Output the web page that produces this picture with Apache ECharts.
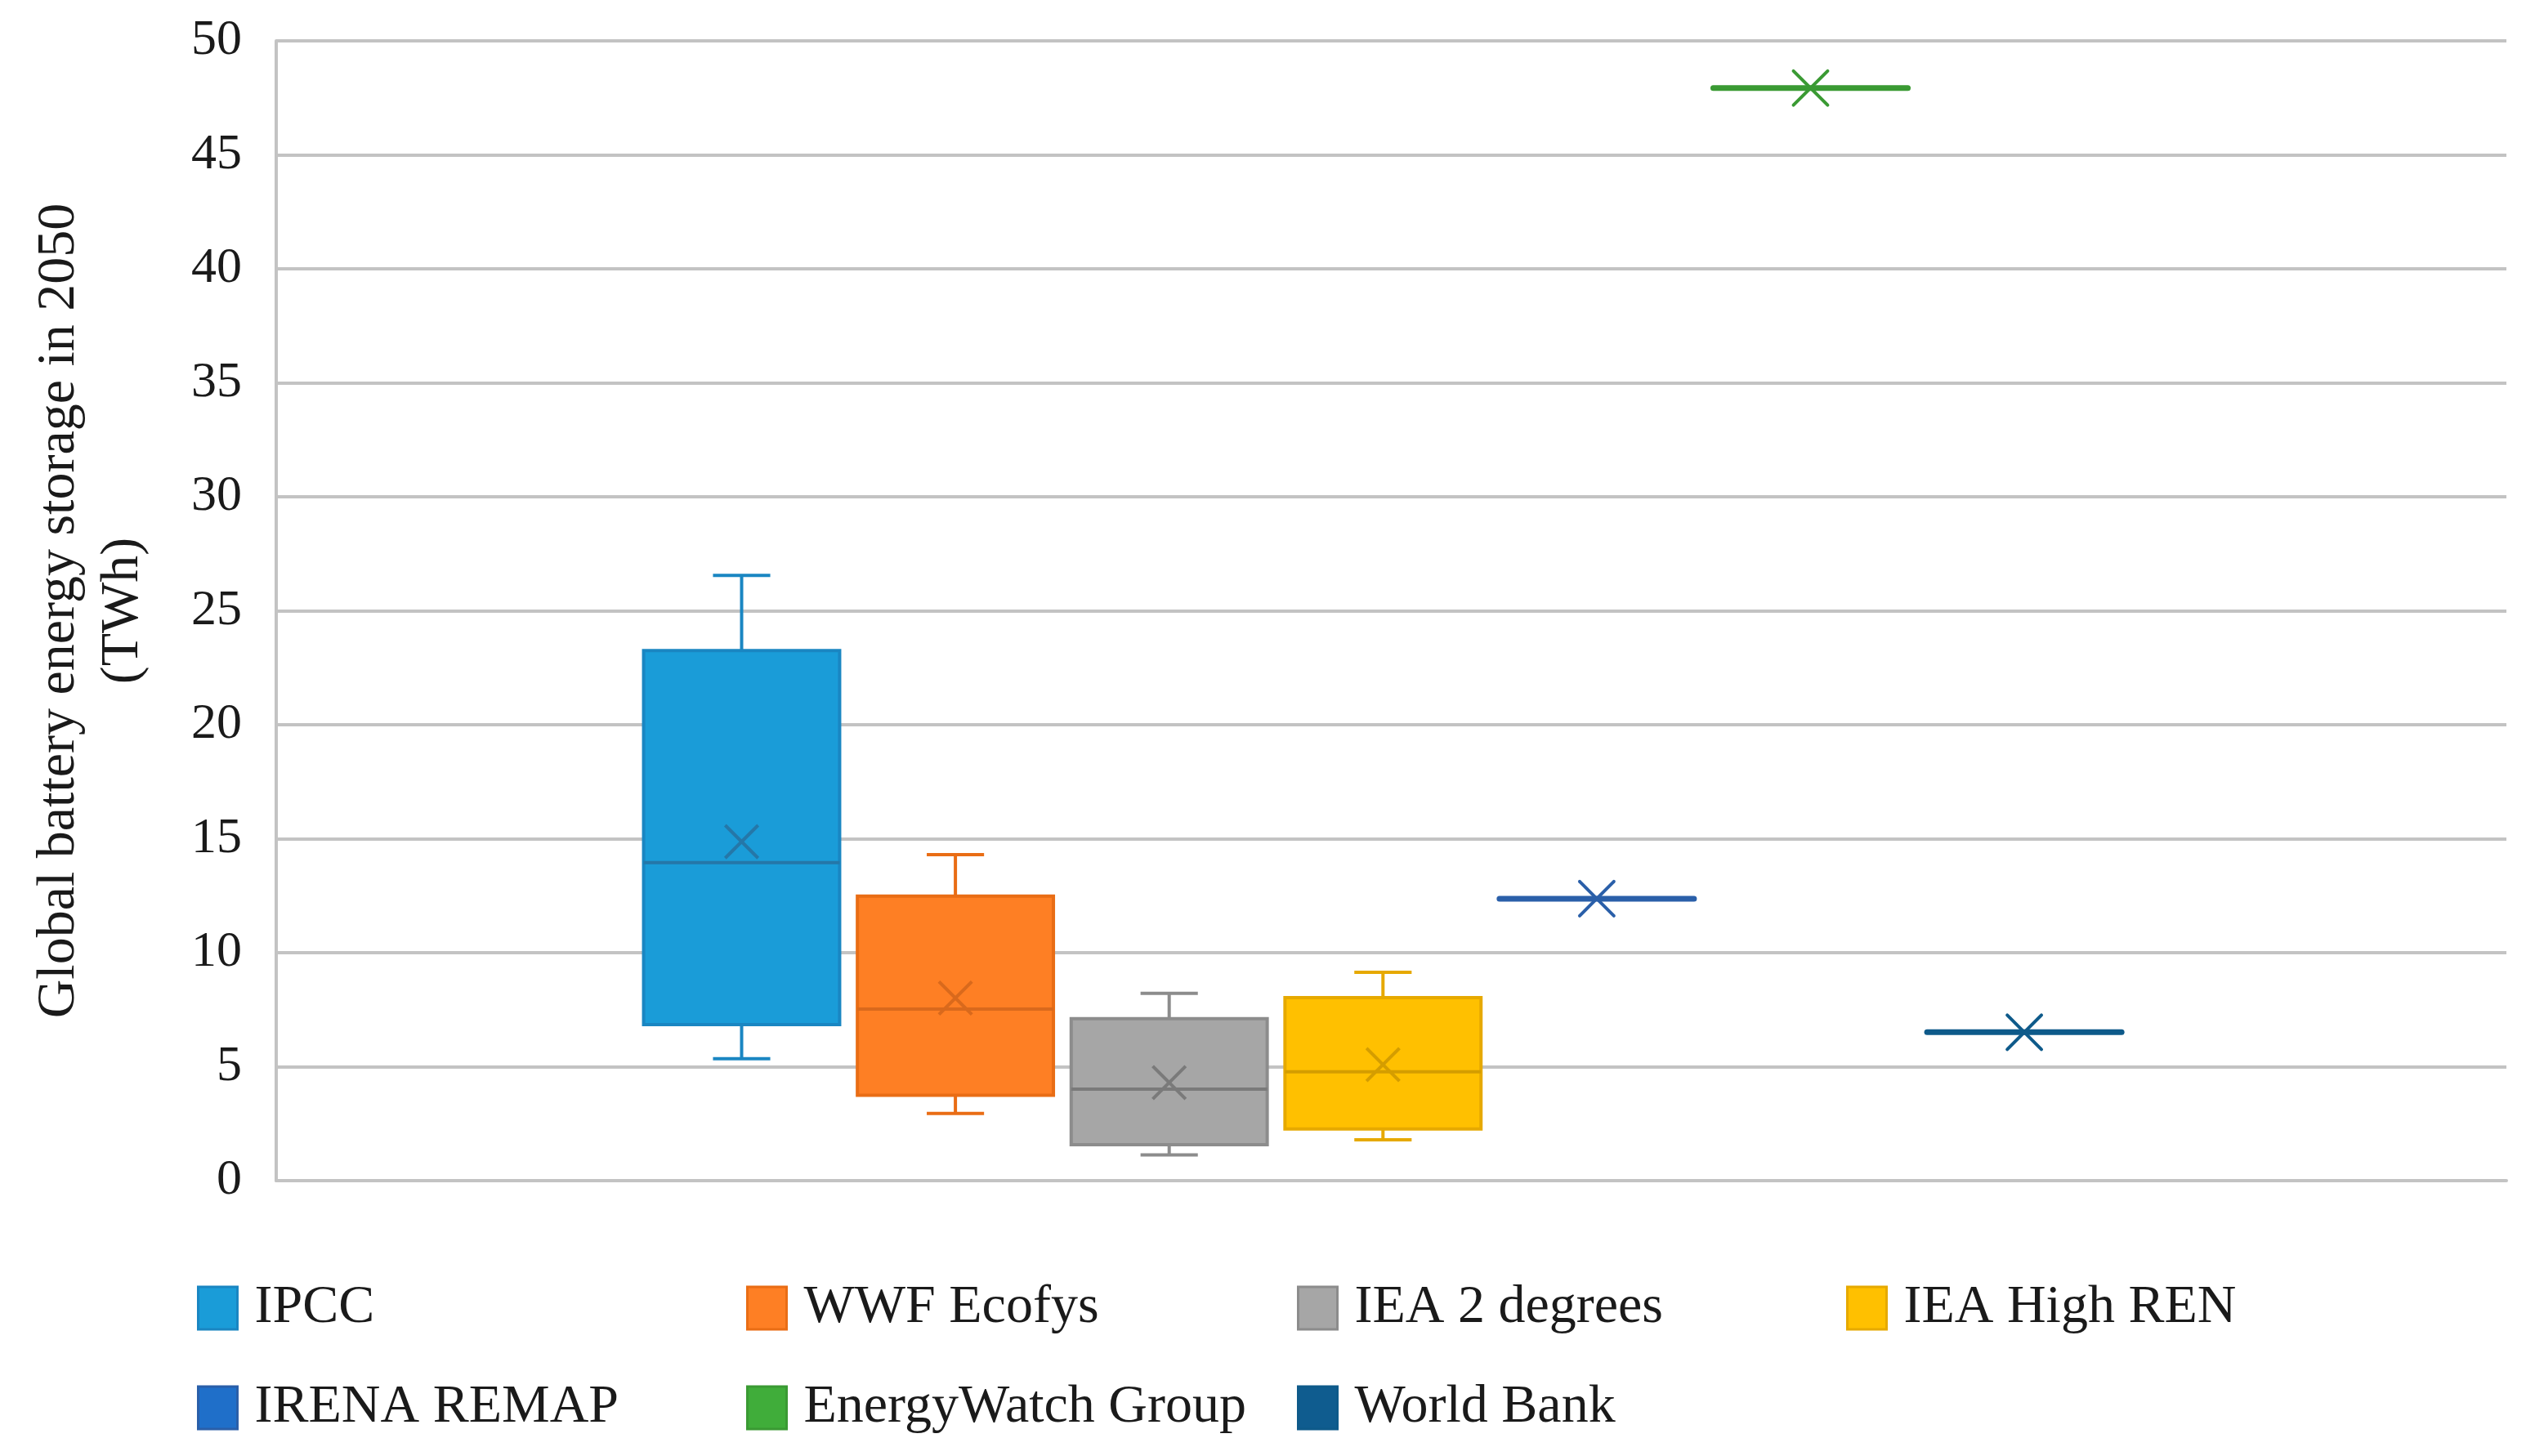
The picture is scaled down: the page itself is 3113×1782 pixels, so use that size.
<!DOCTYPE html>
<html>
<head>
<meta charset="utf-8">
<script src="https://cdn.jsdelivr.net/npm/echarts@6.0.0/dist/echarts.min.js"></script>
<style>html,body{margin:0;padding:0;background:#fff}#c{width:3113px;height:1782px}</style>
</head>
<body>
<div id="c"></div>
<script>
// ---- data (TWh) ----
const categories = ['IPCC', 'WWF Ecofys', 'IEA 2 degrees', 'IEA High REN', 'IRENA REMAP', 'EnergyWatch Group', 'World Bank'];
const boxNames = ['IPCC', 'WWF Ecofys', 'IEA 2 degrees', 'IEA High REN'];
const whiskerLow = [5.35, 2.95, 1.13, 1.79];
const quartile1 = [6.85, 3.75, 1.58, 2.27];
const medianVal = [13.95, 7.53, 4.01, 4.78];
const quartile3 = [23.25, 12.48, 7.11, 8.03];
const whiskerHigh = [26.55, 14.30, 8.22, 9.14];
const meanVal = [14.87, 8.01, 4.30, 5.09];
const singleNames = ['IRENA REMAP', 'EnergyWatch Group', 'World Bank'];
const singleVal = [12.37, 47.93, 6.51];
const yTicks = [0, 5, 10, 15, 20, 25, 30, 35, 40, 45, 50];

// ---- styles ----
const FONT = '"Liberation Serif", "DejaVu Serif", serif';
const fillColors = ['#1a9cd8', '#fe7f24', '#a6a6a6', '#ffc000', '#1f6fc9', '#40ad3a', '#0f5c8f'];
const lineColors = ['#1a86c2', '#e96d15', '#8c8c8c', '#e6a900', '#2a5fa9', '#3a9a33', '#0e5a8a'];
const markColors = ['#2577a8', '#d9691c', '#7a7a7a', '#d49d00', '#2a5fa9', '#3a9a33', '#0e5a8a'];
const GRID = '#c3c3c3';

function renderBox(idx) {
  return function (params, api) {
    const x = api.value(0);
    const pMin = api.coord([x, api.value(1)]);
    const yQ1 = api.coord([x, api.value(2)])[1];
    const yMed = api.coord([x, api.value(3)])[1];
    const yQ3 = api.coord([x, api.value(4)])[1];
    const yMax = api.coord([x, api.value(5)])[1];
    const pMean = api.coord([x, api.value(6)]);
    const cx = pMin[0], yMin = pMin[1];
    const unit = api.size([1, 0])[0];
    const bw = unit * 0.917, cw = unit * 0.268, xs = unit * 0.077;
    const ls = { stroke: lineColors[idx], lineWidth: 4 };
    const ms = { stroke: markColors[idx], lineWidth: 4 };
    return {
      type: 'group',
      children: [
        { type: 'line', shape: { x1: cx, y1: yMax, x2: cx, y2: yQ3 }, style: ls },
        { type: 'line', shape: { x1: cx - cw / 2, y1: yMax, x2: cx + cw / 2, y2: yMax }, style: ls },
        { type: 'line', shape: { x1: cx, y1: yQ1, x2: cx, y2: yMin }, style: ls },
        { type: 'line', shape: { x1: cx - cw / 2, y1: yMin, x2: cx + cw / 2, y2: yMin }, style: ls },
        { type: 'rect', shape: { x: cx - bw / 2, y: yQ3, width: bw, height: yQ1 - yQ3 },
          style: { fill: fillColors[idx], stroke: lineColors[idx], lineWidth: 4 } },
        { type: 'line', shape: { x1: cx - bw / 2, y1: yMed, x2: cx + bw / 2, y2: yMed }, style: ms },
        { type: 'line', shape: { x1: pMean[0] - xs, y1: pMean[1] - xs, x2: pMean[0] + xs, y2: pMean[1] + xs }, style: ms },
        { type: 'line', shape: { x1: pMean[0] - xs, y1: pMean[1] + xs, x2: pMean[0] + xs, y2: pMean[1] - xs }, style: ms }
      ]
    };
  };
}

function renderSingle(idx) {
  return function (params, api) {
    const p = api.coord([api.value(0), api.value(1)]);
    const unit = api.size([1, 0])[0];
    const bw = unit * 0.91, xs = unit * 0.08;
    const c = lineColors[idx];
    return {
      type: 'group',
      children: [
        { type: 'line', shape: { x1: p[0] - bw / 2, y1: p[1], x2: p[0] + bw / 2, y2: p[1] },
          style: { stroke: c, lineWidth: 7, lineCap: 'round' } },
        { type: 'line', shape: { x1: p[0] - xs, y1: p[1] - xs, x2: p[0] + xs, y2: p[1] + xs },
          style: { stroke: c, lineWidth: 4, lineCap: 'round' } },
        { type: 'line', shape: { x1: p[0] - xs, y1: p[1] + xs, x2: p[0] + xs, y2: p[1] - xs },
          style: { stroke: c, lineWidth: 4, lineCap: 'round' } }
      ]
    };
  };
}

const series = [];
boxNames.forEach(function (name, i) {
  const pos = categories.indexOf(name);
  series.push({
    name: name, type: 'custom',
    itemStyle: { color: fillColors[pos] },
    encode: { x: 0, y: [1, 2, 3, 4, 5, 6] },
    renderItem: renderBox(pos),
    data: [[pos, whiskerLow[i], quartile1[i], medianVal[i], quartile3[i], whiskerHigh[i], meanVal[i]]],
    silent: true
  });
});
singleNames.forEach(function (name, j) {
  const pos = categories.indexOf(name);
  series.push({
    name: name, type: 'custom',
    itemStyle: { color: fillColors[pos] },
    encode: { x: 0, y: 1 },
    renderItem: renderSingle(pos),
    data: [[pos, singleVal[j]]],
    silent: true
  });
});

const colX = [241, 913, 1587, 2259];
const rowY = [1568, 1690];
const legends = categories.map(function (name, i) {
  return {
    data: [name],
    left: colX[i % 4], top: rowY[Math.floor(i / 4)],
    icon: 'rect', itemWidth: 48, itemHeight: 52, padding: 0,
    selectedMode: false,
    itemStyle: { borderColor: lineColors[i], borderWidth: 3 },
    textStyle: { fontFamily: FONT, fontSize: 66, color: '#1a1a1a', padding: [0, 0, 0, 16] }
  };
});

const chart = echarts.init(document.getElementById('c'));
chart.setOption({
  backgroundColor: '#ffffff',
  animation: false,
  grid: { left: 338, right: 46, top: 50, bottom: 337, containLabel: false },
  legend: legends,
  xAxis: {
    type: 'value', min: -2.177, max: 8.255,
    axisLine: { show: true, onZero: false, lineStyle: { color: GRID, width: 4 } },
    axisTick: { show: false }, axisLabel: { show: false }, splitLine: { show: false }
  },
  yAxis: {
    type: 'value', min: yTicks[0], max: yTicks[yTicks.length - 1], interval: 5,
    name: 'Global battery energy storage in 2050\n(TWh)',
    nameLocation: 'middle', nameGap: 148, nameRotate: 90,
    nameTextStyle: { fontFamily: FONT, fontSize: 66, color: '#1a1a1a', lineHeight: 78 },
    axisLine: { show: true, onZero: false, lineStyle: { color: GRID, width: 4 } },
    axisTick: { show: false },
    axisLabel: { fontFamily: FONT, fontSize: 62, color: '#1a1a1a', margin: 42 },
    splitLine: { show: true, lineStyle: { color: GRID, width: 4 } }
  },
  series: series
});
</script>
</body>
</html>
